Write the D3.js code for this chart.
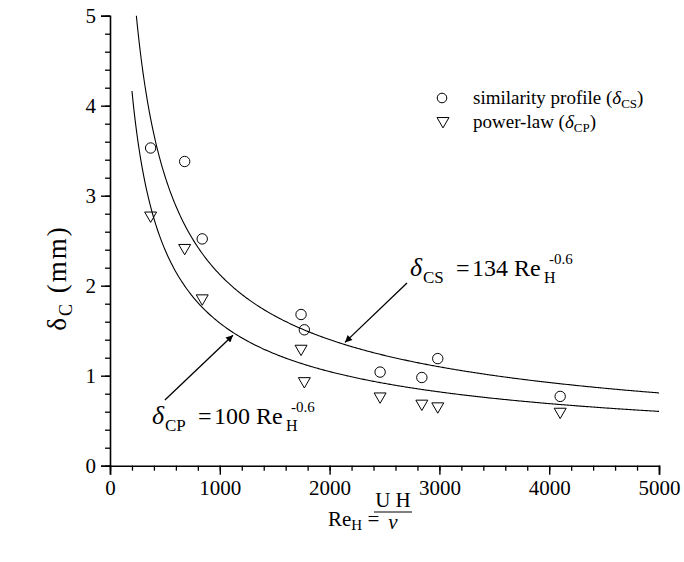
<!DOCTYPE html>
<html>
<head>
<meta charset="utf-8">
<script src="https://cdn.jsdelivr.net/npm/d3@7"></script>
<style>
  body { margin: 0; background: #fff; }
  svg { font-family: "Liberation Serif", "Times New Roman", serif; }
</style>
</head>
<body>
<svg id="chart" width="684" height="562"></svg>
<script>
// measured points (Re_H, delta in mm)
const reH = [370, 680, 840, 1740, 1770, 2460, 2840, 2985, 4100];
const deltaCS = [3.53, 3.38, 2.52, 1.68, 1.51, 1.04, 0.98, 1.19, 0.77];
const deltaCP = [2.78, 2.42, 1.86, 1.30, 0.94, 0.77, 0.69, 0.66, 0.60];

// fitted curves: delta = coef * Re^exp
const fitCoef = [134, 100];
const fitExp = -0.6;
const fitRange = [200, 5000];

const xTicks = [0, 1000, 2000, 3000, 4000, 5000];
const yTicks = [0, 1, 2, 3, 4, 5];

const svg = d3.select("#chart");
const x = d3.scaleLinear().domain([0, 5000]).range([110, 659]);
const y = d3.scaleLinear().domain([0, 5]).range([465.7, 15.7]);

// x axis, minor ticks every 200
const xAxis = svg.append("g").attr("transform", `translate(0,${y(0)})`);
xAxis.call(d3.axisBottom(x).tickValues(d3.range(0, 5001, 200)).tickSize(5).tickFormat(""));
xAxis.select(".domain").remove();
xAxis.selectAll(".tick line").attr("stroke-width", 1.3);
const xMajor = svg.append("g").attr("transform", `translate(0,${y(0)})`);
xMajor.call(d3.axisBottom(x).tickValues(xTicks).tickSize(9).tickPadding(5).tickFormat(d3.format("d")));
xMajor.select(".domain").attr("stroke-width", 1.6);
xMajor.selectAll(".tick line").attr("stroke-width", 1.4);
xMajor.selectAll("text").attr("font-size", 21).attr("font-family", "Liberation Serif").attr("fill", "#000");

// y axis, minor ticks every 0.2
const yAxis = svg.append("g").attr("transform", `translate(${x(0)},0)`);
yAxis.call(d3.axisLeft(y).tickValues(d3.range(0, 5.01, 0.2)).tickSize(5).tickFormat(""));
yAxis.select(".domain").remove();
yAxis.selectAll(".tick line").attr("stroke-width", 1.3);
const yMajor = svg.append("g").attr("transform", `translate(${x(0)},0)`);
yMajor.call(d3.axisLeft(y).tickValues(yTicks).tickSize(9).tickPadding(5).tickFormat(d3.format("d")));
yMajor.select(".domain").attr("stroke-width", 1.6);
yMajor.selectAll(".tick line").attr("stroke-width", 1.4);
yMajor.selectAll("text").attr("font-size", 21).attr("font-family", "Liberation Serif").attr("fill", "#000");

// fit curves
const line = d3.line().x(d => x(d[0])).y(d => y(d[1]));
svg.append("clipPath").attr("id", "plotClip").append("rect")
  .attr("x", x(0)).attr("y", y(5)).attr("width", x(5000) - x(0)).attr("height", y(0) - y(5));
fitCoef.forEach(c => {
  const pts = d3.range(fitRange[0], fitRange[1] + 1, 10).map(r => [r, c * Math.pow(r, fitExp)]);
  svg.append("path").datum(pts).attr("d", line)
    .attr("fill", "none").attr("stroke", "#000").attr("stroke-width", 1.1)
    .attr("clip-path", "url(#plotClip)");
});

// markers
const tri = d3.symbol().type(d3.symbolTriangle).size(62);
svg.append("g").selectAll("circle").data(reH).join("circle")
  .attr("cx", d => x(d)).attr("cy", (d, i) => y(deltaCS[i])).attr("r", 5.2)
  .attr("fill", "none").attr("stroke", "#000").attr("stroke-width", 1);
svg.append("g").selectAll("path").data(reH).join("path")
  .attr("d", tri)
  .attr("transform", (d, i) => `translate(${x(d)},${y(deltaCP[i])}) rotate(180)`)
  .attr("fill", "none").attr("stroke", "#000").attr("stroke-width", 1);

// legend
const legend = svg.append("g").attr("font-size", 19);
legend.append("circle").attr("cx", 442).attr("cy", 98).attr("r", 4.8)
  .attr("fill", "none").attr("stroke", "#000");
legend.append("path").attr("d", tri).attr("transform", "translate(443,121) rotate(180)")
  .attr("fill", "none").attr("stroke", "#000");
const l1 = legend.append("text").attr("x", 473).attr("y", 104);
l1.append("tspan").text("similarity profile (");
l1.append("tspan").attr("font-style", "italic").text("δ");
l1.append("tspan").attr("font-size", 13).attr("dy", 4).text("CS");
l1.append("tspan").attr("dy", -4).text(")");
const l2 = legend.append("text").attr("x", 473).attr("y", 128);
l2.append("tspan").text("power-law (");
l2.append("tspan").attr("font-style", "italic").text("δ");
l2.append("tspan").attr("font-size", 13).attr("dy", 4).text("CP");
l2.append("tspan").attr("dy", -4).text(")");

// arrows
svg.append("defs").append("marker").attr("id", "arrow")
  .attr("viewBox", "0 0 10 10").attr("refX", 10).attr("refY", 5)
  .attr("markerWidth", 14).attr("markerHeight", 7).attr("markerUnits", "userSpaceOnUse")
  .attr("orient", "auto")
  .append("path").attr("d", "M0,0L10,5L0,10Z").attr("fill", "#000");
const arrows = [
  { from: [2705, 2.03], to: [2140, 1.37] },
  { from: [500, 0.73], to: [1120, 1.45] }
];
arrows.forEach(a => {
  svg.append("line")
    .attr("x1", x(a.from[0])).attr("y1", y(a.from[1]))
    .attr("x2", x(a.to[0])).attr("y2", y(a.to[1]))
    .attr("stroke", "#000").attr("stroke-width", 1.3)
    .attr("marker-end", "url(#arrow)");
});

// equation labels
function equation(px, py, sub, coef) {
  const g = svg.append("g").attr("font-size", 24);
  g.append("text").attr("x", px).attr("y", py).attr("font-style", "italic").attr("font-size", 26).text("δ");
  g.append("text").attr("x", px + 13).attr("y", py + 7).attr("font-size", 17).text(sub);
  g.append("text").attr("x", px + 46).attr("y", py).text("=");
  g.append("text").attr("x", px + 62).attr("y", py).text(coef);
  g.append("text").attr("x", px + 104).attr("y", py).text("Re");
  g.append("text").attr("x", px + 134).attr("y", py + 7).attr("font-size", 16).text("H");
  g.append("text").attr("x", px + 139).attr("y", py - 12).attr("font-size", 15).text("-0.6");
}
equation(410, 276, "CS", fitCoef[0]);
equation(152, 424, "CP", fitCoef[1]);

// y title
const yt = svg.append("text").attr("transform", "translate(66,278) rotate(-90)")
  .attr("text-anchor", "middle").attr("font-size", 27).attr("letter-spacing", 2);
yt.append("tspan").text("δ");
yt.append("tspan").attr("font-size", 18).attr("dy", 6).text("C");
yt.append("tspan").attr("dy", -6).text(" (mm)");

// x title
const xt = svg.append("g").attr("font-size", 21);
const re = xt.append("text").attr("x", 328).attr("y", 526);
re.append("tspan").text("Re");
re.append("tspan").attr("font-size", 15).attr("dy", 4).text("H");
re.append("tspan").attr("dy", -4).text(" =");
xt.append("line").attr("x1", 374).attr("x2", 412).attr("y1", 512).attr("y2", 512)
  .attr("stroke", "#000").attr("stroke-width", 1);
xt.append("text").attr("x", 393).attr("y", 507).attr("text-anchor", "middle").text("U H");
xt.append("text").attr("x", 393).attr("y", 529).attr("text-anchor", "middle").attr("font-style", "italic").text("ν");
</script>
</body>
</html>
